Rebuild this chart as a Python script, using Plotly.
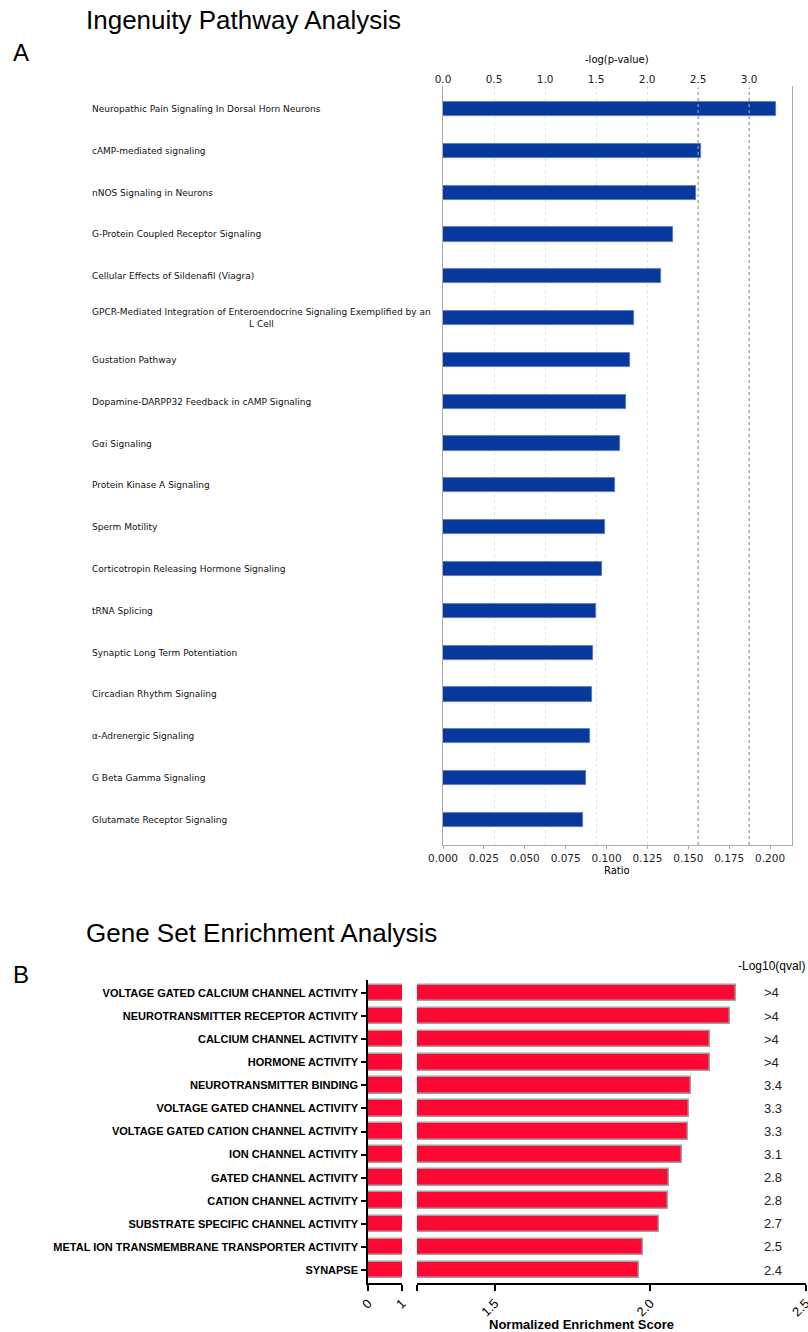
import plotly.graph_objects as go

# ---------------- Data ----------------
ipa_pathways = [
    "Neuropathic Pain Signaling In Dorsal Horn Neurons",
    "cAMP-mediated signaling",
    "nNOS Signaling in Neurons",
    "G-Protein Coupled Receptor Signaling",
    "Cellular Effects of Sildenafil (Viagra)",
    "GPCR-Mediated Integration of Enteroendocrine Signaling Exemplified by an<br>L Cell",
    "Gustation Pathway",
    "Dopamine-DARPP32 Feedback in cAMP Signaling",
    "Gαi Signaling",
    "Protein Kinase A Signaling",
    "Sperm Motility",
    "Corticotropin Releasing Hormone Signaling",
    "tRNA Splicing",
    "Synaptic Long Term Potentiation",
    "Circadian Rhythm Signaling",
    "α-Adrenergic Signaling",
    "G Beta Gamma Signaling",
    "Glutamate Receptor Signaling",
]
ipa_neglogp = [3.26, 2.53, 2.48, 2.25, 2.14, 1.87, 1.83, 1.79, 1.73, 1.69,
               1.59, 1.56, 1.50, 1.47, 1.46, 1.44, 1.40, 1.37]
ipa_top_ticks = [0.0, 0.5, 1.0, 1.5, 2.0, 2.5, 3.0]
ipa_ratio_ticks = [0.000, 0.025, 0.050, 0.075, 0.100, 0.125, 0.150, 0.175, 0.200]
ipa_threshold_lines = [2.5, 3.0]

gsea_sets = [
    "VOLTAGE GATED CALCIUM CHANNEL ACTIVITY",
    "NEUROTRANSMITTER RECEPTOR ACTIVITY",
    "CALCIUM CHANNEL ACTIVITY",
    "HORMONE ACTIVITY",
    "NEUROTRANSMITTER BINDING",
    "VOLTAGE GATED CHANNEL ACTIVITY",
    "VOLTAGE GATED CATION CHANNEL ACTIVITY",
    "ION CHANNEL ACTIVITY",
    "GATED CHANNEL ACTIVITY",
    "CATION CHANNEL ACTIVITY",
    "SUBSTRATE SPECIFIC CHANNEL ACTIVITY",
    "METAL ION TRANSMEMBRANE TRANSPORTER ACTIVITY",
    "SYNAPSE",
]
gsea_nes = [2.276, 2.256, 2.192, 2.192, 2.131, 2.125, 2.122, 2.101,
            2.061, 2.058, 2.029, 1.978, 1.965]
gsea_qval = [">4", ">4", ">4", ">4", "3.4", "3.3", "3.3", "3.1",
             "2.8", "2.8", "2.7", "2.5", "2.4"]
gsea_left_ticks = [0, 1]
gsea_right_ticks = [1.25, 1.5, 2.0, 2.5]
gsea_right_ticktext = ["", "1.5", "2.0", "2.5"]

# ---------------- Helpers ----------------
W, H = 808, 1332
def px(x):
    return x / W
def py(y):
    return 1 - y / H

BLUE = "#07399C"
RED = "#FF0733"
FONT_A = "DejaVu Sans"
FONT_B = "Liberation Sans"

fig = go.Figure()

# ---------------- Panel A ----------------
fig.add_trace(go.Bar(
    y=ipa_pathways, x=ipa_neglogp, orientation="h",
    xaxis="x2", yaxis="y",
    marker=dict(color=BLUE, line=dict(color="#5A74B8", width=0.8)),
    width=0.34, hoverinfo="x+y", showlegend=False,
))
# invisible trace to activate the bottom Ratio axis
fig.add_trace(go.Scatter(
    y=[ipa_pathways[0]], x=[0], xaxis="x", yaxis="y",
    mode="markers", marker=dict(opacity=0), hoverinfo="skip", showlegend=False,
))

# ---------------- Panel B ----------------
for xa in ["x3", "x4"]:
    fig.add_trace(go.Bar(
        y=gsea_sets, x=gsea_nes, orientation="h",
        xaxis=xa, yaxis="y2",
        marker=dict(color=RED, line=dict(color="#A0A0A0", width=1.5)),
        width=0.72, hoverinfo="x+y", showlegend=False,
    ))

n_a = len(ipa_pathways)
n_b = len(gsea_sets)

fig.update_layout(
    width=W, height=H,
    margin=dict(l=0, r=0, t=0, b=0, autoexpand=False),
    paper_bgcolor="white", plot_bgcolor="white",
    bargap=0,
    # Panel A axes
    xaxis=dict(
        domain=[px(443), px(792)], anchor="y", side="bottom",
        range=[0, 0.2134], tickvals=ipa_ratio_ticks,
        ticktext=[f"{v:.3f}" for v in ipa_ratio_ticks],
        showgrid=False, zeroline=False, automargin=False,
        showline=True, linecolor="#AAAAAA", linewidth=1.2,
        ticks="outside", ticklen=3, tickcolor="#AAAAAA",
        tickfont=dict(family=FONT_A, size=10.5, color="#222"),
    ),
    xaxis2=dict(
        domain=[px(443), px(792)], anchor="y", overlaying="x", side="top",
        range=[0, 3.42], tickvals=ipa_top_ticks,
        ticktext=[f"{v:.1f}" for v in ipa_top_ticks],
        showgrid=True, gridcolor="#E2E2E2", griddash="dot", gridwidth=1,
        zeroline=False, showline=False, ticks="", automargin=False,
        tickfont=dict(family=FONT_A, size=10.5, color="#222"),
    ),
    yaxis=dict(
        domain=[py(845), py(86)], anchor="x",
        type="category", categoryorder="array", categoryarray=ipa_pathways,
        range=[n_a - 1 + 0.6, -0.55], automargin=False,
        showticklabels=False, ticks="", showgrid=False, zeroline=False,
        showline=True, mirror=True, linecolor="#AAAAAA", linewidth=1.2,
    ),
    # Panel B axes
    xaxis3=dict(
        domain=[px(368), px(402)], anchor="y2",
        range=[0, 1.0005], tickvals=gsea_left_ticks,
        ticktext=[str(v) for v in gsea_left_ticks],
        tickangle=-45, showgrid=False, zeroline=False, automargin=False,
        showline=True, linecolor="black", linewidth=1.5,
        ticks="outside", ticklen=6, tickwidth=1.5, tickcolor="black",
        ticklabeloverflow="allow",
        tickfont=dict(family=FONT_B, size=13, color="black"),
    ),
    xaxis4=dict(
        domain=[px(417), px(806)], anchor="y2",
        range=[1.2495, 2.5008], tickvals=gsea_right_ticks,
        ticktext=gsea_right_ticktext,
        tickangle=-45, showgrid=False, zeroline=False, automargin=False,
        showline=True, linecolor="black", linewidth=1.5,
        ticks="outside", ticklen=6, tickwidth=1.5, tickcolor="black",
        ticklabeloverflow="allow",
        tickfont=dict(family=FONT_B, size=13, color="black"),
    ),
    yaxis2=dict(
        domain=[py(1283), py(980)], anchor="x3",
        type="category", categoryorder="array", categoryarray=gsea_sets,
        range=[n_b - 1 + 0.56, -0.56], automargin=False,
        showgrid=False, zeroline=False,
        showline=True, linecolor="black", linewidth=1.5,
        ticks="outside", ticklen=5, tickwidth=1.5, tickcolor="black",
        ticklabelstandoff=1,
        tickfont=dict(family=FONT_B, size=11, color="black", weight="bold"),
    ),
)

# threshold (darker dotted) lines in panel A
for v in ipa_threshold_lines:
    fig.add_shape(type="line", xref="x2", yref="paper", x0=v, x1=v,
                  y0=py(845), y1=py(88),
                  line=dict(color="#9A9A9A", width=1.2, dash="dot"))

annotations = []
# Panel A pathway labels (left aligned)
for name in ipa_pathways:
    annotations.append(dict(
        xref="paper", yref="y", x=px(90), y=name, text=name,
        xanchor="left", yanchor="middle", align="center", showarrow=False,
        font=dict(family=FONT_A, size=9, color="#111"),
    ))
# q-value labels panel B
for name, q in zip(gsea_sets, gsea_qval):
    annotations.append(dict(
        xref="paper", yref="y2", x=px(762), y=name, text=q,
        xanchor="left", yanchor="middle", showarrow=False,
        font=dict(family=FONT_B, size=13, color="#222"),
    ))

texts = [
    ("Ingenuity Pathway Analysis", 84, 20, 26, FONT_B, "left", None),
    ("A", 11, 52, 24, FONT_B, "left", None),
    ("-log(p-value)", 617, 60, 10, FONT_A, "center", None),
    ("Ratio", 617, 871, 10, FONT_A, "center", None),
    ("Gene Set Enrichment Analysis", 84, 933, 26, FONT_B, "left", None),
    ("B", 11, 974, 24, FONT_B, "left", None),
    ("-Log10(qval)", 807, 966, 12, FONT_B, "right", None),
    ("Normalized Enrichment Score", 581, 1324, 13, FONT_B, "center", "bold"),
]
for t, x, y, s, fam, anc, wt in texts:
    f = dict(family=fam, size=s, color="black")
    if wt:
        f["weight"] = wt
    annotations.append(dict(
        xref="paper", yref="paper", x=px(x), y=py(y), text=t,
        xanchor=anc, yanchor="middle", showarrow=False, font=f,
    ))

fig.update_layout(annotations=annotations)

fig.write_html("out.html")
